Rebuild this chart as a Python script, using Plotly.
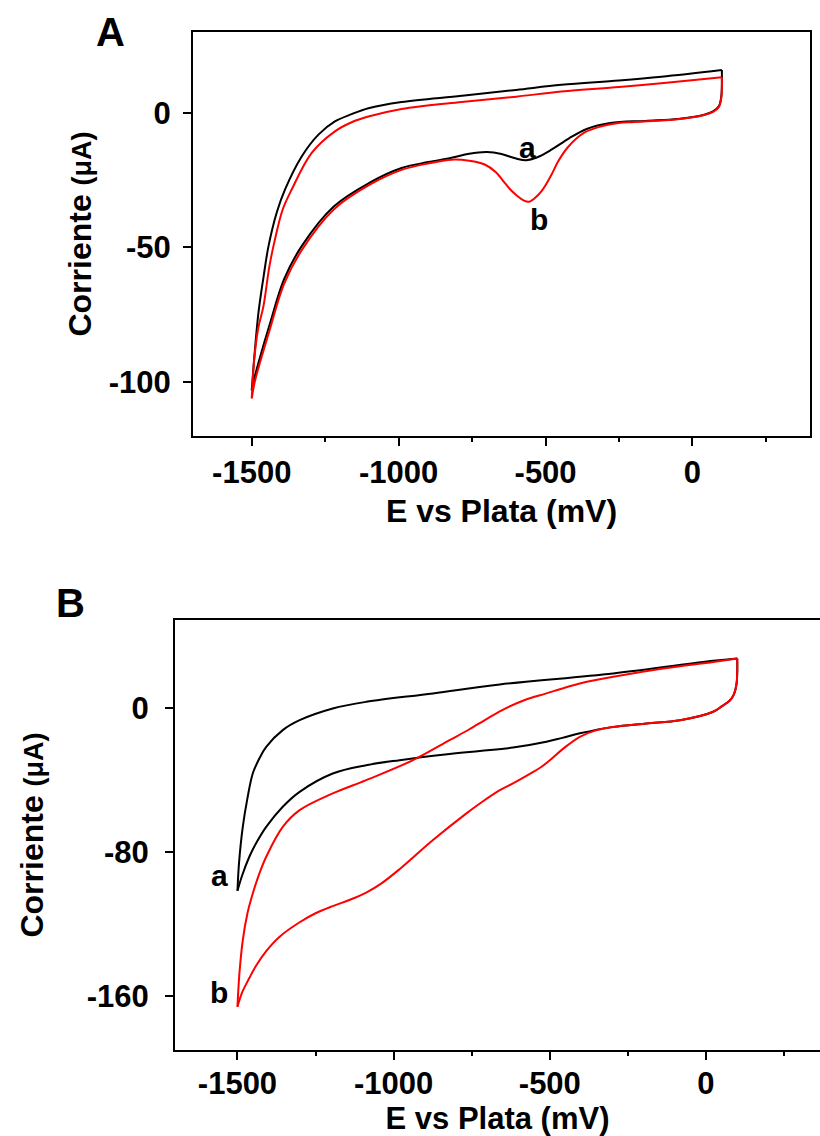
import plotly.graph_objects as go

# ---------------- Panel A data (E in mV, I in µA) ----------------
A_a_fwd_E = [100, 100, 98, 90, 70, 40, -50, -160, -280, -360, -420, -480, -530, -565, -600, -650, -700, -760, -820, -900, -990, -1100, -1220, -1330, -1390, -1440, -1470, -1490, -1500]
A_a_fwd_I = [15.9, 10, 6, 2.5, 0.5, -0.7, -2.3, -3.0, -3.8, -6.0, -9.5, -13.7, -16.6, -17.6, -17.0, -15.3, -14.6, -15.2, -16.7, -18.3, -20.5, -26, -34.7, -49.5, -61.8, -79, -90, -98, -103]
A_a_rev_E = [-1500, -1490, -1477, -1460, -1443, -1415, -1387, -1330, -1273, -1217, -1160, -1103, -990, -786, -600, -446, -250, -106, 100]
A_a_rev_I = [-103, -89, -74, -61, -49.5, -37, -28.5, -16.2, -8.1, -3.2, -0.5, 1.7, 4.0, 6.3, 8.5, 10.4, 12.0, 13.4, 15.9]

A_b_fwd_E = [100, 100, 98, 90, 70, 40, -50, -197, -252, -310, -367, -422, -457, -480, -513, -540, -555, -575, -600, -620, -639, -670, -707, -760, -820, -900, -990, -1100, -1220, -1330, -1390, -1440, -1470, -1490, -1500]
A_b_fwd_I = [13.2, 9, 5.5, 2.2, 0.3, -0.8, -2.4, -3.4, -3.8, -5.0, -7.3, -12.5, -18, -23, -29, -32, -33, -32.5, -30.5, -28.5, -26, -22, -19.2, -17.8, -17.4, -18.8, -21.2, -26.8, -35.8, -51, -63.5, -81, -92, -100, -106]
A_b_rev_E = [-1500, -1492, -1478, -1460, -1440, -1421, -1395, -1364, -1296, -1217, -1160, -1103, -990, -786, -600, -446, -250, -106, 100]
A_b_rev_I = [-106, -92, -80, -71.7, -57, -47, -36, -28.5, -14.9, -6.9, -3.5, -1.4, 1.4, 4.0, 6.0, 7.9, 9.6, 11.0, 13.2]

# ---------------- Panel B data ----------------
B_a_fwd_E = [100, 100, 98, 90, 77, 50, 23, -83, -190, -297, -404, -460, -511, -618, -724, -821, -981, -1088, -1195, -1301, -1355, -1408, -1440, -1462, -1485, -1500]
B_a_fwd_I = [27.6, 20, 13.7, 8, 4.4, 1, -2, -6.7, -8.5, -10.4, -14, -16.5, -18.7, -21.9, -23.8, -25.5, -28.9, -31.7, -36.3, -46.5, -54.8, -66, -75, -82.6, -93, -101.5]
B_a_rev_E = [-1500, -1495, -1483, -1468, -1451, -1430, -1408, -1355, -1301, -1195, -1088, -874, -660, -297, 23, 100]
B_a_rev_I = [-101.5, -86, -66, -50, -36.3, -28, -21.5, -12.2, -6.7, -0.2, 3.5, 8.2, 13.2, 19.3, 26.3, 27.6]

B_b_fwd_E = [100, 100, 98, 90, 77, 50, 23, -83, -190, -297, -350, -404, -457, -500, -530, -564, -618, -660, -724, -767, -874, -981, -1040, -1088, -1140, -1195, -1250, -1301, -1365, -1408, -1440, -1462, -1485, -1500]
B_b_fwd_I = [27.6, 20, 13.7, 8, 4.4, 1, -2, -6.7, -8.5, -10.4, -12.2, -15.9, -22.5, -29, -33, -36.5, -41.8, -45.6, -53, -58.5, -73.3, -89.5, -97.5, -102.5, -106.5, -110, -114, -119, -127, -135, -143, -150, -158, -166]
B_b_rev_E = [-1500, -1494, -1483, -1468, -1451, -1430, -1408, -1355, -1301, -1195, -1088, -938, -821, -760, -700, -640, -580, -511, -450, -404, -297, -137, 23, 100]
B_b_rev_I = [-166, -148, -129, -114, -103, -92, -82.6, -66, -56.7, -47.4, -40, -28.9, -17.8, -12, -5.8, 0, 4.5, 8.2, 11.5, 13.7, 17.4, 22, 25.7, 27.6]

x_tickvals = [-1500, -1000, -500, 0]
x_ticktext = ["-1500", "-1000", "-500", "0"]
x_minor_vals = [-1250, -750, -250, 250]
A_y_tickvals = [-100, -50, 0]
A_y_ticktext = ["-100", "-50", "0"]
B_y_tickvals = [-160, -80, 0]
B_y_ticktext = ["-160", "-80", "0"]

FONT = "Liberation Sans, Arial, sans-serif"
BLACK = "#000000"
RED = "#ff0000"

fig = go.Figure()

def add_curve(E, I, color, xa, ya):
    fig.add_trace(go.Scatter(x=E, y=I, mode="lines", xaxis=xa, yaxis=ya,
                             line=dict(color=color, width=2, shape="spline", smoothing=1.0, simplify=False),
                             showlegend=False, hoverinfo="skip"))

add_curve(A_a_fwd_E, A_a_fwd_I, BLACK, "x", "y")
add_curve(A_a_rev_E, A_a_rev_I, BLACK, "x", "y")
add_curve(A_b_fwd_E, A_b_fwd_I, RED, "x", "y")
add_curve(A_b_rev_E, A_b_rev_I, RED, "x", "y")
add_curve(B_a_fwd_E, B_a_fwd_I, BLACK, "x2", "y2")
add_curve(B_a_rev_E, B_a_rev_I, BLACK, "x2", "y2")
add_curve(B_b_fwd_E, B_b_fwd_I, RED, "x2", "y2")
add_curve(B_b_rev_E, B_b_rev_I, RED, "x2", "y2")

W, H = 820, 1136
tickfont = dict(family=FONT, size=31, color="black", weight="bold")
titlefont = dict(family=FONT, size=32, color="black", weight="bold")
titlefont_b = dict(family=FONT, size=31, color="black", weight="bold")
ytitle = "Corriente <span style='font-size:27px'>(μA)</span>"

common_x = dict(showline=True, linewidth=2, linecolor="black", mirror=True,
                ticks="outside", ticklen=8, tickwidth=2, tickcolor="black",
                tickvals=x_tickvals, ticktext=x_ticktext,
                showgrid=False, zeroline=False, tickfont=tickfont,
                minor=dict(ticks="outside", ticklen=4, tickwidth=1.5, tickcolor="black",
                           tickvals=x_minor_vals))
common_y = dict(showline=True, linewidth=2, linecolor="black",
                ticks="outside", ticklen=8, tickwidth=2, tickcolor="black",
                showgrid=False, zeroline=False, tickfont=tickfont)

fig.update_layout(
    width=W, height=H, margin=dict(l=0, r=0, t=0, b=0),
    paper_bgcolor="white", plot_bgcolor="white",
    xaxis=dict(common_x, domain=[193 / W, 810 / W], range=[-1700, 400], anchor="y",
               ticklabelstandoff=0,
               title=dict(text="E vs Plata (mV)", font=titlefont, standoff=10)),
    yaxis=dict(common_y, domain=[1 - 436 / H, 1 - 32 / H], range=[-120, 30], anchor="x",
               mirror=True, tickvals=A_y_tickvals, ticktext=A_y_ticktext, ticklabelstandoff=6,
               title=dict(text=ytitle, font=titlefont, standoff=8)),
    xaxis2=dict(common_x, domain=[175 / W, 1.0], range=[-1700, 365], anchor="y2",
                ticklabelstandoff=-3,
                title=dict(text="E vs Plata (mV)", font=titlefont_b, standoff=3)),
    yaxis2=dict(common_y, domain=[1 - 1050 / H, 1 - 620 / H], range=[-190, 49], anchor="x2",
                mirror=False, tickvals=B_y_tickvals, ticktext=B_y_ticktext, ticklabelstandoff=10,
                title=dict(text=ytitle, font=titlefont, standoff=34)),
)

ann_font = dict(family=FONT, size=30, color="black", weight="bold")
fig.add_annotation(x=-560, y=-13, xref="x", yref="y", text="a", showarrow=False, font=ann_font)
fig.add_annotation(x=-524, y=-39.6, xref="x", yref="y", text="b", showarrow=False, font=ann_font)
fig.add_annotation(x=-1558, y=-92.8, xref="x2", yref="y2", text="a", showarrow=False, font=ann_font)
fig.add_annotation(x=-1558, y=-157.8, xref="x2", yref="y2", text="b", showarrow=False, font=ann_font)

panel_font = dict(family=FONT, size=40, color="black", weight="bold")
fig.add_annotation(x=110 / W, y=1 - 32 / H, xref="paper", yref="paper", text="A",
                   showarrow=False, font=panel_font, xanchor="center", yanchor="middle")
fig.add_annotation(x=70 / W, y=1 - 603 / H, xref="paper", yref="paper", text="B",
                   showarrow=False, font=panel_font, xanchor="center", yanchor="middle")

fig.write_html("out.html")
